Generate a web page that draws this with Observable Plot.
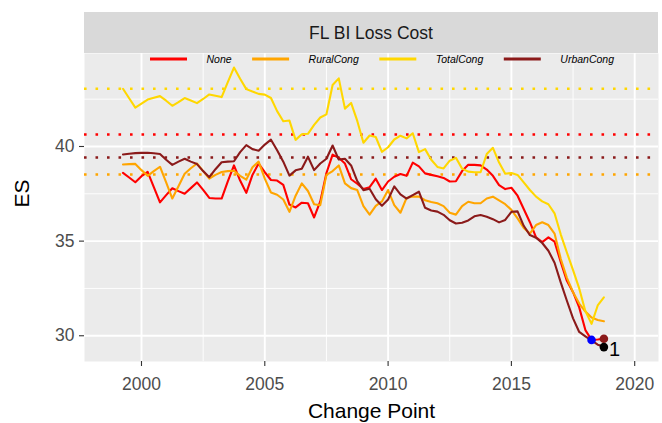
<!DOCTYPE html>
<html><head><meta charset="utf-8">
<script src="https://cdn.jsdelivr.net/npm/d3@7"></script>
<script src="https://cdn.jsdelivr.net/npm/@observablehq/plot@0.6"></script>
<style>body{margin:0;background:#fff;} svg{display:block}</style>
</head><body><div id="chart"></div>
<script>
// quarterly change points, 1999.25 .. 2018.75
const changePoints = d3.range(79).map(k => 1999.25 + 0.25 * k);
const seriesNames = ["None", "RuralCong", "TotalCong", "UrbanCong"];
const seriesColors = ["#FF0000", "#FFA500", "#FFD700", "#8B1A1A"];
const baselineES = [40.63, 38.52, 43.05, 39.42];

const esNone = [38.61,38.36,38.11,38.43,38.66,37.85,37.05,37.43,37.79,37.64,
  37.5,37.8,38.1,37.71,37.28,37.25,37.25,38.16,39.0,38.2,
  37.55,38.5,39.1,38.64,38.23,38.2,37.97,36.93,36.78,37.03,
  37.0,36.25,37.1,38.6,39.57,39.4,39.1,38.27,38.03,37.75,
  37.85,38.3,37.7,38.15,38.4,38.55,38.45,39.15,38.95,38.58,
  38.5,38.43,38.34,38.15,38.16,38.7,39.03,39.03,39.0,38.78,
  38.45,37.96,37.75,37.82,37.4,36.7,36.0,35.2,34.95,35.2,
  34.97,33.9,32.9,32.3,31.5,30.3,29.78,29.8,29.84];
const esRural = [39.05,39.07,39.08,38.75,38.45,38.7,38.93,38.1,37.25,37.9,
  38.56,38.85,39.1,38.7,38.3,38.5,38.65,38.7,38.72,38.45,
  38.25,38.9,39.2,38.3,37.57,37.45,37.2,36.55,37.4,38.05,
  37.65,36.95,36.9,38.5,38.7,39.0,38.05,37.8,37.7,36.85,
  36.4,36.86,37.1,37.7,36.9,36.5,37.28,37.36,37.35,37.16,
  37.07,37.0,36.85,36.5,36.4,36.85,37.08,37.0,37.0,37.25,
  37.35,37.15,36.95,36.65,36.2,35.7,35.4,35.85,36.0,35.85,
  35.4,34.07,33.06,32.3,31.7,31.28,30.96,30.83,30.77];
const esTotal = [43.05,42.55,42.05,42.26,42.48,42.58,42.66,42.42,42.15,42.34,
  42.56,42.43,42.29,42.51,42.75,42.68,42.61,43.4,44.17,43.58,
  43.03,42.9,42.78,42.74,42.56,41.87,41.33,41.37,40.35,40.65,
  40.67,41.14,41.53,41.7,43.25,43.6,42.0,42.3,41.35,40.2,
  40.58,40.5,39.72,39.96,40.37,40.57,40.43,40.7,39.7,39.86,
  39.3,38.92,38.84,39.25,39.4,38.83,38.67,38.64,38.64,39.6,
  39.93,39.15,38.56,38.6,38.5,38.1,37.7,37.35,37.1,36.95,
  36.47,35.36,34.4,33.47,32.5,31.3,30.63,31.6,32.03];
const esUrban = [39.58,39.62,39.65,39.66,39.67,39.64,39.6,39.3,39.03,39.2,
  39.35,39.2,39.07,38.7,38.38,38.8,39.17,39.2,39.22,39.7,
  40.07,39.86,39.78,40.1,40.36,39.8,39.2,38.46,38.74,38.82,
  39.46,38.75,39.1,39.35,40.05,39.31,39.35,39.0,38.17,37.69,
  37.77,37.21,36.87,37.2,37.89,37.47,37.25,37.43,37.61,36.76,
  36.62,36.56,36.39,36.1,35.93,35.97,36.09,36.31,36.38,36.29,
  36.16,35.99,36.12,36.55,36.57,35.81,35.32,35.18,34.9,34.49,
  33.86,32.82,31.85,30.92,30.2,29.97,29.75,29.53,29.43];

// highlighted points
const markX = [2018.25, 2018.75, 2018.75];
const markY = [29.78, 29.84, 29.4];
const markFill = ["#0000FF", "#8B1A1A", "#000000"];
const markLabel = ["", "", "1"];

const majorX = [2000, 2005, 2010, 2015, 2020];
const minorX = [2002.5, 2007.5, 2012.5, 2017.5];
const majorY = [30, 35, 40];
const minorY = [32.5, 37.5, 42.5];

const allSeries = [esNone, esRural, esTotal, esUrban];
const rows = [];
allSeries.forEach((vals, s) => vals.forEach((v, i) => rows.push({x: changePoints[i], y: v, series: seriesNames[s]})));
const baseRows = baselineES.map((v, s) => ({y: v, series: seriesNames[s]}));
const pts = markX.map((x, i) => ({x, y: markY[i], fill: markFill[i], label: markLabel[i]}));

const font = "'Liberation Sans', Arial, Helvetica, sans-serif";
const W = 662, H = 423, ML = 84, MR = 4, MT = 53, MB = 62;

const chart = Plot.plot({
  width: W, height: H,
  marginLeft: ML, marginRight: MR, marginTop: MT, marginBottom: MB,
  style: {background: "white", fontFamily: font, overflow: "visible"},
  x: {domain: [1997.689, 2020.965]},
  y: {domain: [28.64, 44.913]},
  color: {domain: seriesNames, range: seriesColors},
  marks: [
    Plot.frame({fill: "#EBEBEB", stroke: "none"}),
    Plot.gridX(minorX, {stroke: "white", strokeOpacity: 1, strokeWidth: 0.9}),
    Plot.gridY(minorY, {stroke: "white", strokeOpacity: 1, strokeWidth: 0.9}),
    Plot.gridX(majorX, {stroke: "white", strokeOpacity: 1, strokeWidth: 1.9}),
    Plot.gridY(majorY, {stroke: "white", strokeOpacity: 1, strokeWidth: 1.9}),
    Plot.ruleY(baseRows, {y: "y", stroke: "series", strokeWidth: 2.6, strokeDasharray: "2.6 8.9"}),
    Plot.line(rows, {x: "x", y: "y", z: "series", stroke: "series", strokeWidth: 2.1}),
    Plot.dot(pts, {x: "x", y: "y", fill: d => d.fill, r: 4.3, stroke: "none"}),
    Plot.text(pts, {x: "x", y: "y", text: "label", dx: 5, dy: 2, textAnchor: "start", fontSize: 20, fill: "black"}),
    Plot.axisX(majorX, {tickSize: 5, tickFormat: () => "", stroke: "#333333", strokeWidth: 1.1, label: null}),
    Plot.axisX(majorX, {tickSize: 0, tickPadding: 16, tickFormat: d => String(d), fontSize: 17.5, fill: "#4D4D4D", label: null}),
    Plot.axisY(majorY, {tickSize: 5, tickFormat: () => "", stroke: "#333333", strokeWidth: 1.1, label: null}),
    Plot.axisY(majorY, {tickSize: 0, tickPadding: 10, tickFormat: d => String(d), fontSize: 17.5, fill: "#4D4D4D", label: null}),
    Plot.text(["Change Point"], {text: d => d, frameAnchor: "bottom", dy: 56, fontSize: 21, fill: "black"}),
    Plot.text(["ES"], {text: d => d, frameAnchor: "left", dx: -62, rotate: -90, fontSize: 21, fill: "black"})
  ]
});

document.getElementById("chart").appendChild(chart);
const svg = d3.select(chart);
// facet strip
svg.append("rect").attr("x", ML).attr("y", 12).attr("width", W - ML - MR).attr("height", MT - 12).attr("fill", "#D9D9D9");
svg.append("text").attr("x", ML + (W - ML - MR) / 2).attr("y", 32.5)
  .attr("text-anchor", "middle").attr("dominant-baseline", "central")
  .attr("font-size", 17.5).attr("fill", "#1A1A1A").attr("font-family", font)
  .text("FL BI Loss Cost");
// legend inside panel top
const lg = svg.append("g").attr("font-family", font).attr("text-anchor", "start");
let lx = 150;
const ly = 59;
seriesNames.forEach((name, i) => {
  lg.append("line").attr("x1", lx).attr("x2", lx + 37).attr("y1", ly).attr("y2", ly)
    .attr("stroke", seriesColors[i]).attr("stroke-width", 3);
  const t = lg.append("text").attr("x", lx + 56.5).attr("y", ly)
    .attr("text-anchor", "start")
    .attr("dominant-baseline", "central").attr("font-style", "italic")
    .attr("font-size", 10.5).attr("fill", "#000").text(name);
  lx += 56.5 + t.node().getComputedTextLength() + 20.5;
});
</script></body></html>
